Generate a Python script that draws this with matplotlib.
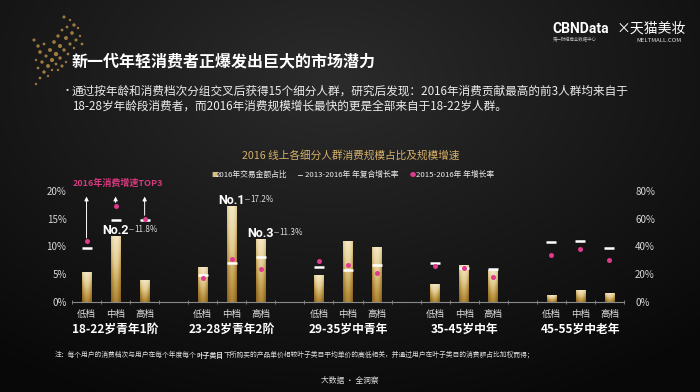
import numpy as np
import matplotlib
matplotlib.use('Agg')
import matplotlib.pyplot as plt
from matplotlib.colors import LinearSegmentedColormap

plt.rcParams['font.family'] = ['Noto Sans CJK SC', 'DejaVu Sans']

# ---------------- data ----------------
tiers = ['低档', '中档', '高档']
groups = ['18-22岁青年1阶', '23-28岁青年2阶', '29-35岁中青年', '35-45岁中年', '45-55岁中老年']
share_2016 = [5.4, 11.8, 3.9, 6.2, 17.2, 11.3, 4.7, 10.9, 9.8, 3.2, 6.5, 5.6, 1.1, 2.0, 1.5]
cagr_13_16 = [38.7, 58.9, 59.0, 19.5, 27.9, 32.7, 25.5, 23.1, 26.7, 28.4, 24.5, 23.5, 43.0, 44.2, 38.9]
yoy_15_16 = [43.7, 69.2, 60.0, 17.5, 31.0, 23.8, 29.3, 26.9, 20.7, 25.9, 24.3, 18.0, 33.6, 38.0, 30.0]
left_ticks = [0, 5, 10, 15, 20]
right_ticks = [0, 20, 40, 60, 80]
top3_index = [4, 1, 5]
top3_names = ['No.1', 'No.2', 'No.3']

W, H = 700, 392
fig = plt.figure(figsize=(7, 3.92), dpi=100)

# ---------------- background ----------------
bg = fig.add_axes([0, 0, 1, 1])
yy, xx = np.mgrid[0:H, 0:W]
d = np.sqrt(((xx - 330) / 520.0) ** 2 + ((yy - 80) / 330.0) ** 2)
v = np.clip(0.17 - 0.13 * d, 0.035, 0.2)
img = np.dstack([v, v, v])
bg.imshow(img, extent=[0, W, H, 0], aspect='auto')
bg.set_xlim(0, W); bg.set_ylim(H, 0)
bg.axis('off')

# decorative gold sparkles (hand placed, diagonal fan)
sp = [(64, 17), (70, 20), (74, 25), (78, 28), (67, 27), (72, 33), (80, 36), (76, 40),
      (62, 30), (58, 36), (66, 38), (70, 44), (74, 48), (82, 44), (54, 42), (60, 46),
      (64, 50), (68, 54), (50, 50), (56, 54), (60, 58), (46, 56), (52, 60), (56, 64),
      (42, 62), (48, 66), (52, 70), (38, 68), (44, 72), (48, 76), (40, 78), (36, 60),
      (34, 40), (38, 46), (44, 44), (40, 52), (58, 70), (62, 66), (66, 62), (36, 84)]
sz = [5, 3, 6, 3, 4, 7, 3, 5, 4, 6, 8, 5, 3, 4, 7, 9, 6, 4, 8, 10, 6, 5, 9, 4,
      6, 8, 3, 4, 6, 3, 4, 3, 5, 6, 4, 7, 3, 5, 3, 3]
bg.scatter([p[0] for p in sp], [p[1] for p in sp], s=sz, color='#c0924a', alpha=0.8, lw=0)

def T(x, y, s, **kw):
    kw.setdefault('va', 'center')
    return fig.text(x / W, 1 - y / H, s, **kw)

# ---------------- header ----------------
T(72, 61, '新一代年轻消费者正爆发出巨大的市场潜力', size=11.5, weight='bold', color='white')
T(62, 91, '•', size=8, color='#dddddd')
T(72, 91, '通过按年龄和消费档次分组交叉后获得15个细分人群，研究后发现：2016年消费贡献最高的前3人群均来自于',
  size=8.4, color='#ececec')
T(72, 106, '18-28岁年龄段消费者，而2016年消费规模增长最快的更是全部来自于18-22岁人群。',
  size=8.4, color='#ececec')

T(552, 29, 'CBNData', size=10, weight='bold', color='white', family=['Roboto', 'DejaVu Sans'])
T(617, 29, '×天猫美妆', size=10, color='white')
T(553, 40, '第一财经商业数据中心', size=3.2, color='#bbbbbb')
T(636, 41, 'MELTMALL.COM', size=4.3, color='#dddddd')

# ---------------- chart title & legend ----------------
T(351, 155, '2016 线上各细分人群消费规模占比及规模增速', size=7.7, color='#d6b06a', ha='center')
T(211, 175, '■', size=4.5, color='#d8bf80')
T(216, 175, '2016年交易金额占比', size=5.6, color='#eeeeee')
T(298, 175, '━', size=3.5, color='white', weight='bold')
T(305, 175, '2013-2016年 年复合增长率', size=5.6, color='#eeeeee')
T(410, 175, '●', size=4.5, color='#e03a8c')
T(416, 175, '2015-2016年 年增长率', size=5.6, color='#eeeeee')

# ---------------- axes ----------------
x_left, x_right, y0, y20 = 72, 624, 302, 191
ax = fig.add_axes([x_left / W, (H - y0) / H, (x_right - x_left) / W, (y0 - y20) / H])
ax.patch.set_alpha(0)
ax2 = ax.twinx()
ax2.patch.set_alpha(0)

xs = [g * 4 + t for g in range(len(groups)) for t in range(len(tiers))]

gold = LinearSegmentedColormap.from_list('gold', ['#8a6422', '#b8923f', '#e2cc94', '#f3e8c6'])
gy = np.linspace(0, 1, 64)[:, None]
gx = np.linspace(-1, 1, 32)[None, :]
grad = np.clip(0.25 + 0.75 * gy - 0.35 * gx ** 2, 0, 1)
bw = 0.33
for x, h in zip(xs, share_2016):
    ax.imshow(grad, extent=[x - bw / 2, x + bw / 2, 0, h], origin='lower',
              cmap=gold, vmin=0, vmax=1, aspect='auto', zorder=2)

ax.set_xlim(-0.5, 18.5)
ax.set_ylim(0, 20)
ax2.set_ylim(0, 80)

ax2.plot(xs, cagr_13_16, ls='none', marker='_', ms=7.5, mew=1.8, color='white', zorder=4)
ax2.plot(xs, yoy_15_16, ls='none', marker='o', ms=3.6, mew=0, color='#e03a8c', zorder=5)

for a in (ax, ax2):
    for s in ('top', 'left', 'right', 'bottom'):
        a.spines[s].set_visible(False)
ax.spines['bottom'].set_visible(True)
ax.spines['bottom'].set_color('#8a8a8a')
ax.spines['bottom'].set_linewidth(0.8)

ax.set_yticks(left_ticks)
ax.set_yticklabels([f'{v}%' for v in left_ticks])
ax.tick_params(axis='y', length=0, pad=4, labelsize=7, labelcolor='#d8d8d8')
ax2.set_yticks(right_ticks)
ax2.set_yticklabels([f'{v}%' for v in right_ticks])
ax2.tick_params(axis='y', length=0, pad=8, labelsize=7, labelcolor='#d8d8d8')

ax.set_xticks(xs)
ax.set_xticklabels(tiers * len(groups))
ax.tick_params(axis='x', which='major', length=0, pad=6, labelsize=6.8, labelcolor='#dddddd')
ax.set_xticks(np.arange(-0.5, 19, 1), minor=True)
ax.tick_params(axis='x', which='minor', length=3, direction='inout', color='#8a8a8a', width=0.6)

trans = ax.get_xaxis_transform()
for g, name in enumerate(groups):
    ax.text(g * 4 + 1, -0.245, name, transform=trans, ha='center', va='center',
            size=8.5, weight='bold', color='white')

# top3 growth arrows in first group
for i in range(3):
    start = max(cagr_13_16[i], yoy_15_16[i]) + 2.5
    ax2.annotate('', xy=(xs[i], 76), xytext=(xs[i], start), annotation_clip=False,
                 arrowprops=dict(arrowstyle='-|>', color='white', lw=0.7, mutation_scale=6,
                                 shrinkA=0, shrinkB=0))
ax2.text(1.07, 85.5, '2016年消费增速TOP3', size=6.5, weight='bold', color='#d63a7e',
         ha='center', va='center', clip_on=False)

# No.x labels
for idx, name in zip(top3_index, top3_names):
    x, h = xs[idx], share_2016[idx]
    ax.text(x, h + 1.0, name, size=9, weight='bold', color='white', ha='center', va='center',
            family=['Roboto', 'DejaVu Sans'], zorder=6)
    ax.plot([x + 0.47, x + 0.6], [h + 1.4, h + 1.4], color='#bbbbbb', lw=0.5, clip_on=False)
    ax.text(x + 0.64, h + 1.3, f'{h}%', size=5.8, color='#dddddd', ha='left', va='center',
            clip_on=False)

# ---------------- footnote ----------------
fig.canvas.draw()
r = fig.canvas.get_renderer()
parts = [('注：每个用户的消费档次与用户在每个年度每个', 'normal'), ('叶子类目', 'bold'),
         ('下所购买的产品单价相较叶子类目平均单价的高低相关，并通过用户在叶子类目的消费额占比加权而得；', 'normal')]
xcur = 55
for s, w in parts:
    t = T(xcur, 355, s, size=4.9, weight=w, color='#dddddd')
    xcur += t.get_window_extent(r).width
T(350, 381, '大数据 · 全洞察', size=5.6, color='#dddddd', ha='center')

fig.savefig('out.png', dpi=100, facecolor='black')
